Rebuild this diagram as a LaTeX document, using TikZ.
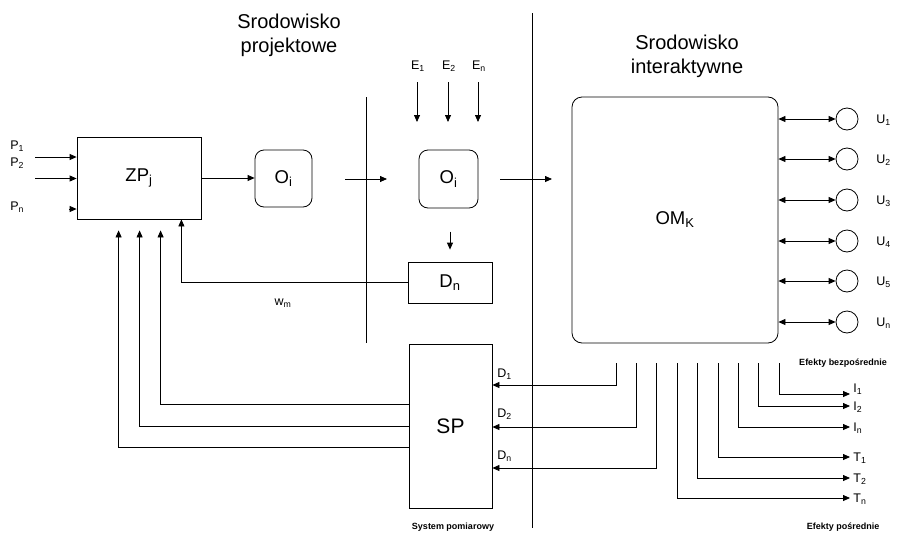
\documentclass[tikz,border=0pt]{standalone}
\usepackage{fontspec}
\setmainfont{Liberation Sans}
\usepackage{tikz}
\usetikzlibrary{positioning,arrows.meta}

\begin{document}
\begin{tikzpicture}[x=1pt,y=-1pt,
  line width=0.8pt,
  every node/.style={font=\fontsize{12.5}{15}\selectfont,inner sep=1pt},
  arr/.style={-{Triangle[length=7pt,width=6pt]}},
  darr/.style={{Triangle[length=7pt,width=6pt]}-{Triangle[length=7pt,width=6pt]}},
  blok/.style={draw,font=\fontsize{18.5}{22}\selectfont},
  rblok/.style={blok,rounded corners=9pt},
  title/.style={font=\fontsize{20}{24}\selectfont,align=center},
  note/.style={font=\fontsize{9}{11}\selectfont\bfseries}]
  \useasboundingbox (0,0) rectangle (899,533);

  % Titles
  \node[title] (tproj) at (289,35) {Srodowisko\\projektowe};
  \node[title] (tint) at (687,56) {Srodowisko\\interaktywne};

  % Dividers
  \draw (366,97) -- (366,343);
  \draw (532,13) -- (532,528);

  % Blocks
  \node[blok,minimum width=124pt,minimum height=82pt] (zp) at (139,178) {ZP\textsubscript{j}};
  \node[rblok,minimum width=57pt,minimum height=57pt] (o1) at (283.5,178.5) {O\textsubscript{i}};
  \node[rblok,minimum width=59pt,minimum height=58pt] (o2) at (448.5,179) {O\textsubscript{i}};
  \node[blok,minimum width=84pt,minimum height=41pt] (dn) at (450,282.5) {D\textsubscript{n}};
  \node[blok,rounded corners=10pt,minimum width=206pt,minimum height=246pt] (om) at (675,220) {OM\textsubscript{K}};
  \node[blok,minimum width=83pt,minimum height=164pt,font=\fontsize{21}{24}\selectfont] (sp) at (450.5,426) {SP};

  % Inputs P
  \foreach \y/\i in {146/1,163.5/2,207.5/n}
    \node[anchor=west] (p\i) at (9,\y) {P\textsubscript{\i}};
  \coordinate (p1in) at (35,157);
  \coordinate (p2in) at (35,178.5);
  \coordinate (pnin) at (69,209);
  \foreach \c in {p1in,p2in,pnin}
    \draw[arr] (\c) -- (\c -| zp.west);

  % Flow of the object
  \draw[arr] (zp.east) -- (zp.east -| o1.west);
  \coordinate (a1) at (345,179);
  \coordinate (a2) at (387,179);
  \draw[arr] (a1) -- (a2);
  \coordinate (b1) at (500,179);
  \coordinate (b2) at (552,179);
  \draw[arr] (b1) -- (b2);

  % Inputs E
  \foreach \x/\i in {417/1,448/2,478/n} {
    \node (e\i) at (\x+1,66) {E\textsubscript{\i}};
    \coordinate (es\i) at (\x,82);
    \coordinate (ee\i) at (\x,122);
    \draw[arr] (es\i) -- (ee\i);
  }

  % O -> D, feedback to ZP
  \draw[arr] ([yshift=30pt]dn.north) -- ([yshift=12pt]dn.north);
  \draw[arr] (dn.west) -| ([xshift=-20pt]zp.south east);
  \node (wm) at (283,303) {w\textsubscript{m}};

  % SP -> ZP
  \foreach \s/\d in {22/84,0/63,-21/42}
    \draw[arr] ([yshift=\s pt]sp.west) -| ([xshift=\d pt,yshift=-11pt]zp.south west);

  % Users U
  \foreach \y/\i in {119/1,159/2,200/3,241/4,281/5,322/n} {
    \node[draw,circle,minimum size=22pt,inner sep=0pt] (u\i) at (847,\y) {};
    \node[anchor=west] (lu\i) at (875,\y+1) {U\textsubscript{\i}};
    \draw[darr] (om.east |- u\i) -- (u\i.west);
  }

  % Measurements D
  \foreach \x/\s/\y/\i in {616/41/374.5/1,636.4/-1/414/2,656.8/-42/456/n} {
    \coordinate (dt\i) at (\x,363);
    \draw[arr] (dt\i) |- ([yshift=\s pt]sp.east);
    \node[anchor=west] (ld\i) at (496,\y) {D\textsubscript{\i}};
  }

  % Effects I and T
  \foreach \x/\y/\l/\i/\t in {779.2/394/I/1/5,758.8/406/I/2/-1,738.4/427/I/n/-1,718/457/T/1/-1,697.6/478/T/2/-1,677.2/498/T/n/-1} {
    \coordinate (ft\l\i) at (\x,363);
    \coordinate (fe\l\i) at (850,\y);
    \draw[arr] (ft\l\i) |- (fe\l\i);
    \node[anchor=west] (lf\l\i) at ([xshift=2pt,yshift=\t pt]fe\l\i) {\l\textsubscript{\i}};
  }

  % Notes
  \node[note] (nbez) at (843,363) {Efekty bezpośrednie};
  \node[note] (npos) at (843,527) {Efekty pośrednie};
  \node[note] (nsys) at (453,527) {System pomiarowy};
\end{tikzpicture}
\end{document}
